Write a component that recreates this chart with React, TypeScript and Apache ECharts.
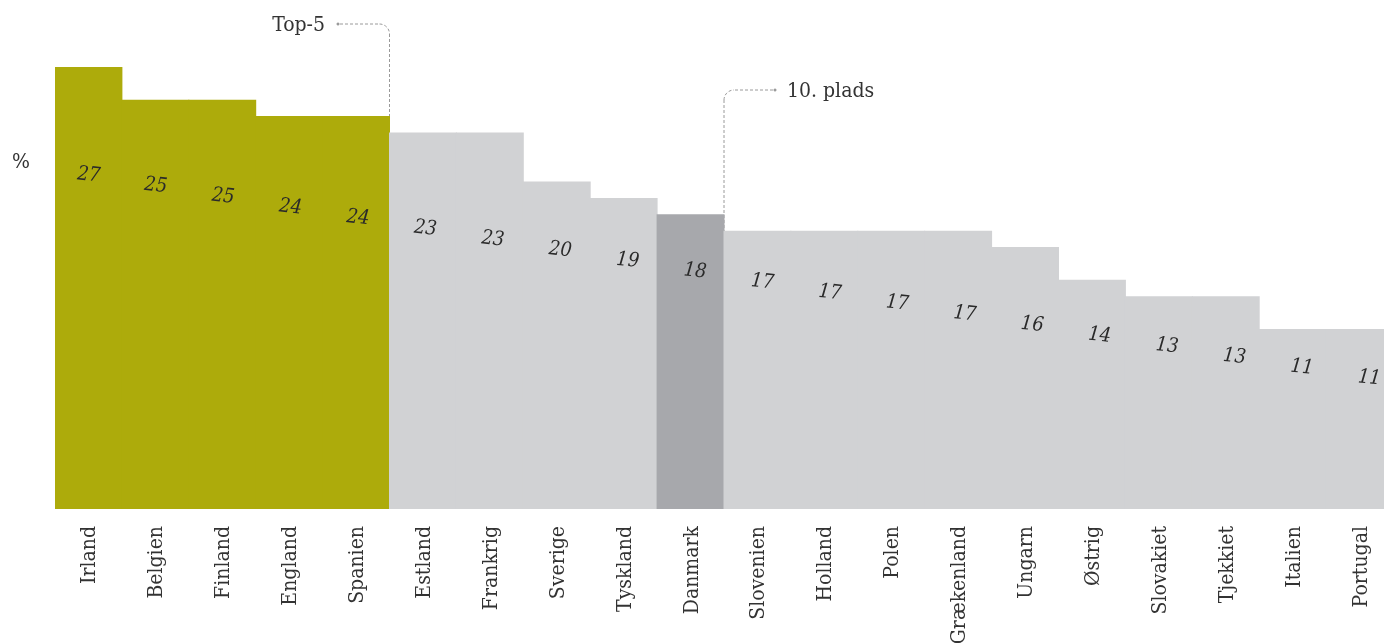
import React, { useEffect, useRef } from "react";
import * as echarts from "echarts";

const countries = [
  "Irland", "Belgien", "Finland", "England", "Spanien", "Estland", "Frankrig",
  "Sverige", "Tyskland", "Danmark", "Slovenien", "Holland", "Polen", "Grækenland",
  "Ungarn", "Østrig", "Slovakiet", "Tjekkiet", "Italien", "Portugal",
];
const values = [27, 25, 25, 24, 24, 23, 23, 20, 19, 18, 17, 17, 17, 17, 16, 14, 13, 13, 11, 11];
const topCount = 5;
const highlightIndex = 9;
const yMax = 27;
// label band runs diagonally: level (in data units) at first and last bar
const labelLevelStart = 20.5;
const labelLevelEnd = 8.1;
const labelDriftEnd = 10; // px drift to the right at the last bar

const OLIVE = "#ADAB0B";
const LIGHT = "#D1D2D4";
const DARK = "#A7A8AC";
const FONT = "'DejaVu Serif Condensed', 'DejaVu Serif', serif";

export default function App() {
  const ref = useRef<HTMLDivElement>(null);
  useEffect(() => {
    if (!ref.current) return;
    const chart = echarts.init(ref.current, null, { renderer: "svg" });
    const gridTop = 67;
    const gridBottom = 134;
    const gridLeft = 55;
    const gridRight = -9;
    const plotH = 643 - gridTop - gridBottom;
    const pxPerUnit = plotH / yMax;
    const n = values.length;
    const band = (1384 - gridLeft - gridRight) / n;
    const data = values.map((v, i) => {
      const t = i / (n - 1);
      const level = labelLevelStart + (labelLevelEnd - labelLevelStart) * t;
      const color = i < topCount ? OLIVE : i === highlightIndex ? DARK : LIGHT;
      return {
        value: v,
        itemStyle: { color },
        label: { position: [band * 1.015 / 2 + labelDriftEnd * t, (v - level) * pxPerUnit] as any },
      };
    });
    chart.setOption({
      animation: false,
      grid: { left: gridLeft, right: gridRight, top: gridTop, bottom: gridBottom, outerBoundsMode: "none", containLabel: false },
      xAxis: {
        type: "category",
        data: countries,
        axisLine: { show: false },
        axisTick: { show: false },
        axisLabel: {
          rotate: 90,
          interval: 0,
          margin: 17,
          padding: [5, 0, 0, 0],
          fontFamily: FONT,
          fontSize: 21,
          color: "#333",
        },
      },
      yAxis: { type: "value", min: 0, max: yMax, show: false },
      series: [
        {
          type: "bar",
          data,
          barWidth: "101.5%",
          barCategoryGap: 0,
          label: {
            show: true,
            align: "center",
            verticalAlign: "middle",
            rotate: -6,
            fontFamily: FONT,
            fontStyle: "italic",
            fontSize: 20,
            color: "#2a2a2a",
          },
        },
      ],
    });

    const bottomY = chart.convertToPixel({ yAxisIndex: 0 }, 0) as number;
    const topX = (chart.convertToPixel({ xAxisIndex: 0 }, topCount - 1) as number) + band / 2;
    const hlX = (chart.convertToPixel({ xAxisIndex: 0 }, highlightIndex) as number) + band / 2;
    const dash = { stroke: "#9a9a9a", lineWidth: 1, lineDash: [3, 2], fill: null };
    const r = 10;
    const t5y = 24;
    const plY = 90;
    chart.setOption({
      graphic: [
        { type: "text", style: { text: "%", x: 12, y: 161, fontFamily: FONT, fontSize: 21, fill: "#333", verticalAlign: "middle" } },
        // Top-5
        { type: "text", style: { text: "Top-5", x: 325, y: t5y, align: "right", verticalAlign: "middle", fontFamily: FONT, fontSize: 21, fill: "#333" } },
        { type: "circle", shape: { cx: 338, cy: t5y, r: 1.5 }, style: { fill: "#9a9a9a" } },
        { type: "line", shape: { x1: 340, y1: t5y, x2: topX - r, y2: t5y }, style: dash },
        { type: "arc", shape: { cx: topX - r, cy: t5y + r, r, startAngle: -Math.PI / 2, endAngle: 0, clockwise: true }, style: dash },
        { type: "line", shape: { x1: topX, y1: t5y + r, x2: topX, y2: bottomY }, style: dash },
        // 10. plads
        { type: "text", style: { text: "10. plads", x: 787, y: plY, align: "left", verticalAlign: "middle", fontFamily: FONT, fontSize: 21, fill: "#333" } },
        { type: "circle", shape: { cx: 775, cy: plY, r: 1.5 }, style: { fill: "#9a9a9a" } },
        { type: "line", shape: { x1: 773, y1: plY, x2: hlX + r, y2: plY }, style: dash },
        { type: "arc", shape: { cx: hlX + r, cy: plY + r, r, startAngle: Math.PI, endAngle: 1.5 * Math.PI, clockwise: true }, style: dash },
        { type: "line", shape: { x1: hlX, y1: plY + r, x2: hlX, y2: bottomY }, style: dash },
      ],
    });
    return () => chart.dispose();
  }, []);
  return <div ref={ref} style={{ position: "fixed", left: 0, top: 0, width: 1384, height: 643 }} />;
}
